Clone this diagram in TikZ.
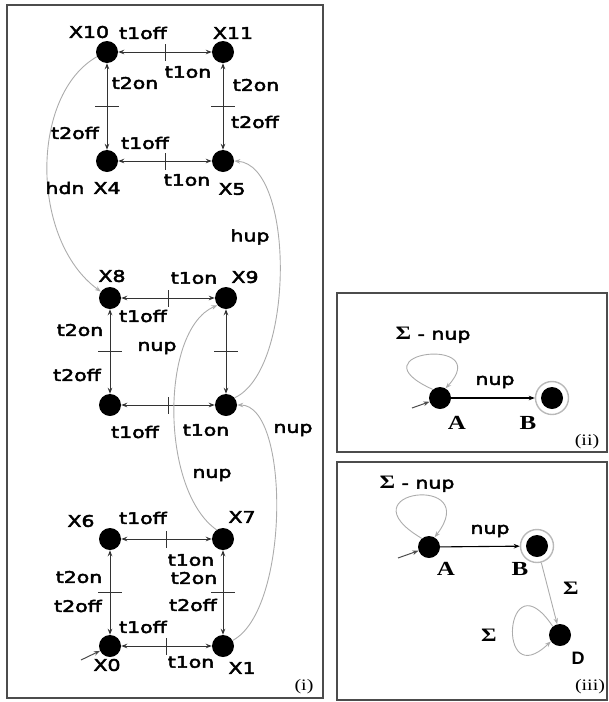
\documentclass[tikz,border=0pt]{standalone}
\usepackage{fontspec}
\setmainfont{DejaVu Sans}[FakeStretch=1.28,FakeBold=3]
\newfontfamily\serifface{Liberation Serif}[FakeStretch=1.25]
\newfontfamily\sansface{Liberation Sans}
\usetikzlibrary{arrows.meta,decorations.markings}

\begin{document}
\begin{tikzpicture}[x=1pt,y=-1pt,
  st/.style={circle,fill=black,minimum size=22pt,inner sep=0pt},
  fin/.style={circle,draw=gray!55,line width=1.4pt,fill=white,minimum size=33pt,inner sep=0pt,
    path picture={\fill[black] (path picture bounding box.center) circle (11pt);}},
  lbl/.style={font=\fontsize{16}{16}\selectfont,inner sep=0pt},
  serlbl/.style={font=\serifface\bfseries\fontsize{20}{20}\selectfont,inner sep=0pt},
  tag/.style={font=\serifface\fontsize{16}{16}\selectfont,inner sep=0pt},
  dedge/.style={{Stealth[length=6pt,width=4.5pt]}-{Stealth[length=6pt,width=4.5pt]},draw=black!80,line width=1pt},
  midtick/.style={postaction={decorate},decoration={markings,
    mark=at position 0.5 with {\draw[-,black!80,line width=1pt] (0pt,-#1) -- (0pt,#1);}}},
  curve/.style={-{Stealth[length=6pt,width=4.5pt]},draw=gray!65,line width=0.9pt},
  initarr/.style={-{Stealth[length=6pt,width=4.5pt]},draw=black!70,line width=1pt},
  panel/.style={draw=black!70,line width=1.2pt}
]
\useasboundingbox (0,0) rectangle (609,702);

% panel frames
\draw[panel] (7,5) rectangle (323,698);
\draw[panel] (337,293) rectangle (607,452);
\draw[panel] (337,462) rectangle (607,700);

% ---- panel (i): states ----
\node[st] (X10) at (107,52) {};
\node[st] (X11) at (223,52) {};
\node[st] (X4)  at (107,161) {};
\node[st] (X5)  at (223,161) {};
\node[st] (X8)  at (110,298) {};
\node[st] (X9)  at (226,298) {};
\node[st] (M2)  at (110,405) {};
\node[st] (M3)  at (226,405) {};
\node[st] (X6)  at (110,539) {};
\node[st] (X7)  at (223,539) {};
\node[st] (X0)  at (110,646) {};
\node[st] (X1)  at (223,646) {};

% square transitions with switch ticks
\draw[dedge,midtick=8.5pt] (X10) -- (X11);
\draw[dedge,midtick=12pt]  (X10) -- (X4);
\draw[dedge,midtick=12pt]  (X11) -- (X5);
\draw[dedge,midtick=8.5pt] (X4) -- (X5);
\draw[dedge,midtick=8.5pt] (X8) -- (X9);
\draw[dedge,midtick=12pt]  (X8) -- (M2);
\draw[dedge,midtick=12pt]  (X9) -- (M3);
\draw[dedge,midtick=8.5pt] (M2) -- (M3);
\draw[dedge,midtick=8.5pt] (X6) -- (X7);
\draw[dedge,midtick=12pt]  (X6) -- (X0);
\draw[dedge,midtick=12pt]  (X7) -- (X1);
\draw[dedge,midtick=8.5pt] (X0) -- (X1);

% level changes
\draw[curve] (X10.205) .. controls (30,95) and (30,240) .. (X8.145);
\draw[curve] (M3.40) .. controls (295,370) and (295,165) .. (X5.east);
\draw[curve] (X1.30) .. controls (290,610) and (290,405) .. (M3.east);
\draw[curve] (X7.125) .. controls (160,490) and (160,330) .. (X9.220);

\coordinate (i0) at (81,660);
\draw[initarr] (i0) -- (X0);

% state names
\node[lbl] (nX10) at (89,32) {X10};
\node[lbl] (nX11) at (233,33) {X11};
\node[lbl] (nX4)  at (107,188) {X4};
\node[lbl] (nX5)  at (232,189) {X5};
\node[lbl] (nX8)  at (112,276) {X8};
\node[lbl] (nX9)  at (245,277) {X9};
\node[lbl] (nX6)  at (81,521) {X6};
\node[lbl] (nX7)  at (242,517) {X7};
\node[lbl] (nX0)  at (107,665) {X0};
\node[lbl] (nX1)  at (242,668) {X1};

% event labels, top square
\node[lbl] (a1) at (143,33) {t1off};
\node[lbl] (a2) at (188,72) {t1on};
\node[lbl] (a3) at (135,83) {t2on};
\node[lbl] (a4) at (75,133) {t2off};
\node[lbl] (a5) at (256,85) {t2on};
\node[lbl] (a6) at (255,122) {t2off};
\node[lbl] (a7) at (145,143) {t1off};
\node[lbl] (a8) at (187,180) {t1on};
\node[lbl] (a9) at (65,188) {hdn};
\node[lbl] (a10) at (250,237) {hup};
% middle square
\node[lbl] (b1) at (194,278) {t1on};
\node[lbl] (b2) at (143,316) {t1off};
\node[lbl] (b3) at (80,330) {t2on};
\node[lbl] (b4) at (157,348) {nup};
\node[lbl] (b5) at (77,375) {t2off};
\node[lbl] (b6) at (135,432) {t1off};
\node[lbl] (b7) at (206,430) {t1on};
\node[lbl] (b8) at (293,430) {nup};
% bottom square
\node[lbl] (c1) at (212,475) {nup};
\node[lbl] (c2) at (143,518) {t1off};
\node[lbl] (c3) at (191,560) {t1on};
\node[lbl] (c4) at (79,577) {t2on};
\node[lbl] (c5) at (194,578) {t2on};
\node[lbl] (c6) at (78,606) {t2off};
\node[lbl] (c7) at (193,605) {t2off};
\node[lbl] (c8) at (143,627) {t1off};
\node[lbl] (c9) at (191,662) {t1on};
\node[tag] (ti) at (304,687) {(i)};

% ---- panel (ii) ----
\node[st]  (A)  at (440,398) {};
\node[fin] (B)  at (552,398) {};
\coordinate (iA) at (412,408);
\draw[initarr] (iA) -- (A);
\draw[-{Stealth[length=6pt,width=4.5pt]},black,line width=1.1pt] (A) -- (B);
\draw[curve] (A.130) .. controls (350,352) and (495,335) .. (A.60);
\node[lbl] (s1) at (433,335) {{\serifface\bfseries\fontsize{19}{19}\selectfont Σ} - nup};
\node[lbl] (s2) at (495,382) {nup};
\node[serlbl] (nA) at (457,423) {A};
\node[serlbl] (nB) at (528,423) {B};
\node[tag] (tii) at (587,442) {(ii)};

% ---- panel (iii) ----
\node[st]  (A2) at (429,547) {};
\node[fin] (B2) at (537,546) {};
\node[st]  (D)  at (560,635) {};
\coordinate (iA2) at (398,558);
\draw[initarr] (iA2) -- (A2);
\draw[-{Stealth[length=6pt,width=4.5pt]},black,line width=1.1pt] (A2) -- (B2);
\draw[curve] (A2.130) .. controls (340,490) and (484,473) .. (A2.60);
\draw[curve] (B2) -- (D);
\draw[curve] (D.130) .. controls (505,555) and (495,695) .. (D.215);
\node[lbl] (s3) at (417,484) {{\serifface\bfseries\fontsize{19}{19}\selectfont Σ} - nup};
\node[lbl] (s4) at (490,531) {nup};
\node[serlbl] (nA2) at (446,569) {A};
\node[serlbl] (nB2) at (520,569) {B};
\node[lbl,font=\serifface\bfseries\fontsize{19}{19}\selectfont] (s5) at (571,588) {Σ};
\node[lbl,font=\serifface\bfseries\fontsize{19}{19}\selectfont] (s6) at (489,635) {Σ};
\node[lbl,font=\sansface\bfseries\fontsize{18}{18}\selectfont] (nD) at (578,658) {D};
\node[tag] (tiii) at (590,687) {(iii)};
\end{tikzpicture}
\end{document}
